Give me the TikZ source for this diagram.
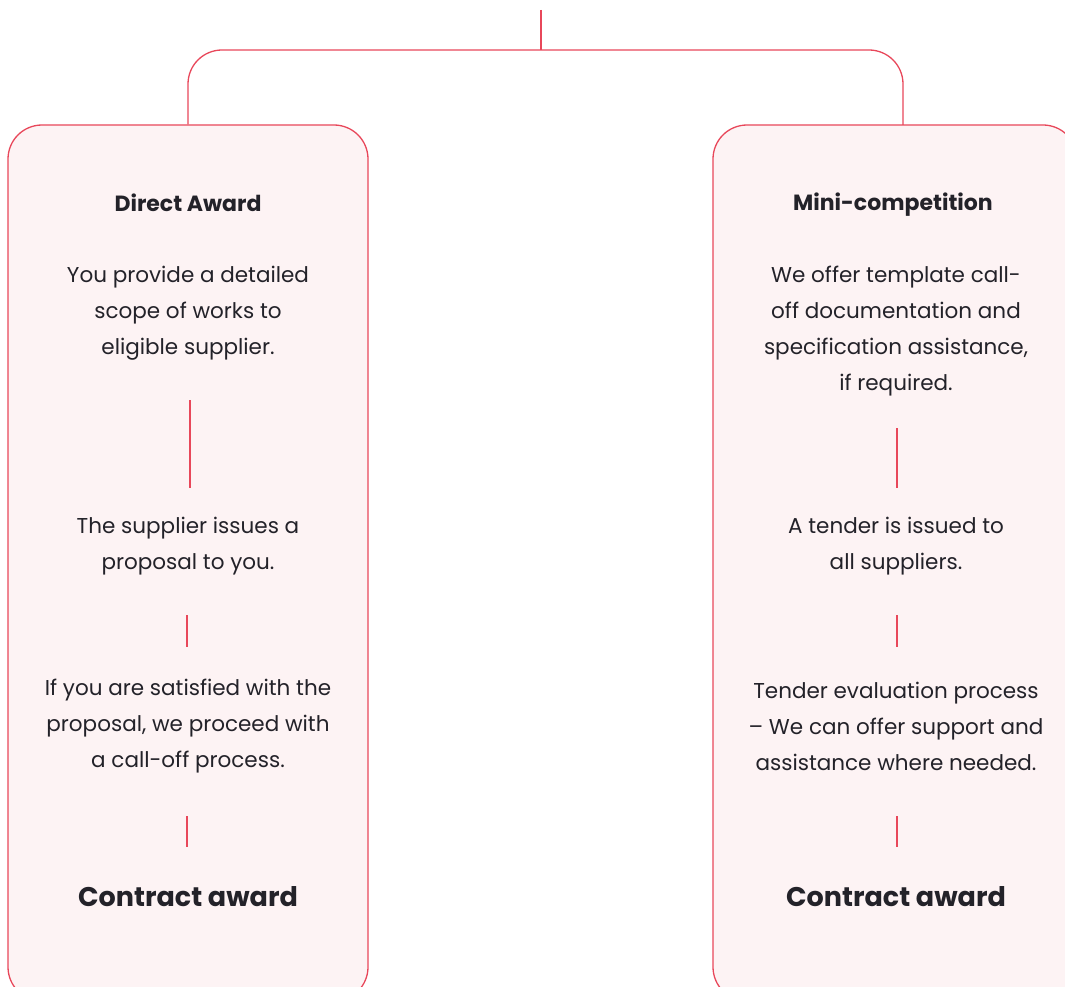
\documentclass[tikz,border=0pt]{standalone}
\usepackage{fontspec}
\setmainfont{Poppins}
\usetikzlibrary{positioning}

\definecolor{linkred}{HTML}{E8475A}
\definecolor{panelfill}{HTML}{FDF3F4}
\definecolor{inkdark}{HTML}{232229}

\tikzset{
  panel/.style={draw=linkred, fill=panelfill, line width=1.3pt, rounded corners=34pt},
  link/.style={draw=linkred, line width=1.3pt},
  body/.style={text=inkdark, align=center, inner sep=0pt, font=\fontsize{21.5}{36}\selectfont},
  head/.style={text=inkdark, align=center, inner sep=0pt, font=\fontsize{22}{26}\selectfont\bfseries},
  final/.style={text=inkdark, align=center, inner sep=0pt, font=\fontsize{27}{32}\selectfont\bfseries}
}

\begin{document}
\begin{tikzpicture}[x=1pt,y=-1pt]
\useasboundingbox (0,0) rectangle (1065,987);
\clip (0,0) rectangle (1065,987);

\coordinate (root) at (541,10);
\coordinate (hub) at (541,50);
\coordinate (dropR) at (903,125);
% left column line ends
\coordinate (la) at (190,400);
\coordinate (lb) at (190,488);
\coordinate (lc) at (187,615);
\coordinate (ld) at (187,647);
\coordinate (le) at (187,816);
\coordinate (lf) at (187,847);
% right column line ends
\coordinate (ra) at (897,428);
\coordinate (rb) at (897,488);
\coordinate (rc) at (897,615);
\coordinate (rd) at (897,647);
\coordinate (re) at (897,816);
\coordinate (rf) at (897,847);

\node[panel, minimum width=360pt, minimum height=876pt] (direct) at (188,563) {};
\node[panel, minimum width=364pt, minimum height=876pt] (mini) at (895,563) {};

\draw[link] (root) -- (hub);
\draw[link, rounded corners=34pt] (direct.north) |- (hub) -| (dropR);

% direct award
\node[head] (dhead) at (188,203) {Direct Award};
\node[body] (dscope) at (188,313) {You provide a detailed\\scope of works to\\eligible supplier.};
\node[body] (dprop) at (188,546) {The supplier issues a\\proposal to you.};
\node[body] (dcall) at (188,726) {If you are satisfied with the\\proposal, we proceed with\\a call-off process.};
\node[final] (dend) at (188,897) {Contract award};

% mini-competition
\node[head] (mhead) at (893,205) {Mini-competition};
\node[body] (mdocs) at (896,331) {We offer template call-\\off documentation and\\specification assistance,\\if required.};
\node[body] (mtender) at (896,546) {A tender is issued to\\all suppliers.};
\node[body] (meval) at (896,726) {Tender evaluation process\\– We can offer support and\\assistance where needed.};
\node[final] (mend) at (896,897) {Contract award};

\draw[link] (la) -- (lb);
\draw[link] (lc) -- (ld);
\draw[link] (le) -- (lf);
\draw[link] (ra) -- (rb);
\draw[link] (rc) -- (rd);
\draw[link] (re) -- (rf);
\end{tikzpicture}
\end{document}
